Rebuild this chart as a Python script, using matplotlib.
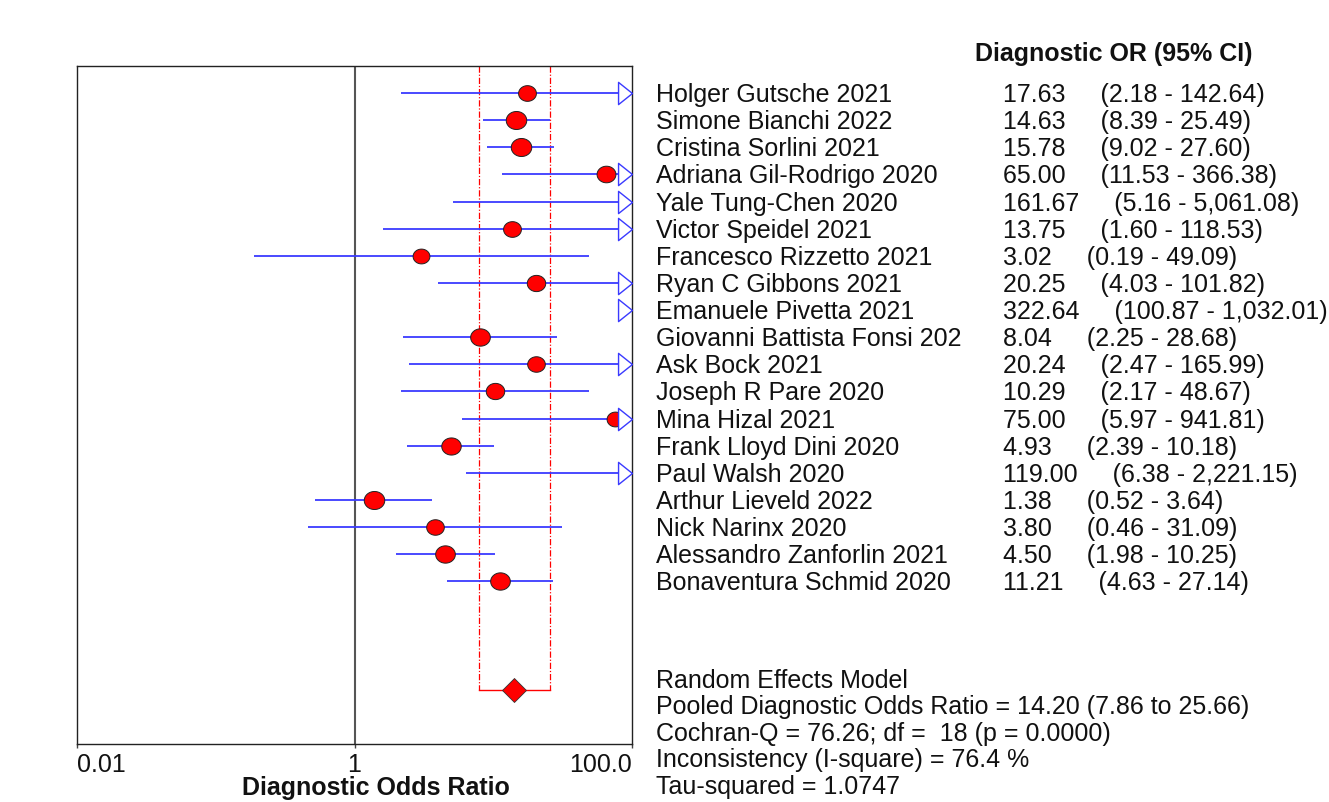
import matplotlib
matplotlib.use("Agg")
import matplotlib.pyplot as plt
import numpy as np
from matplotlib.path import Path
from matplotlib.transforms import blended_transform_factory

plt.rcParams['font.family'] = ['Liberation Sans', 'DejaVu Sans']

# ---------------- data ----------------
studies = ["Holger Gutsche 2021", "Simone Bianchi 2022", "Cristina Sorlini 2021",
           "Adriana Gil-Rodrigo 2020", "Yale Tung-Chen 2020", "Victor Speidel 2021",
           "Francesco Rizzetto 2021", "Ryan C Gibbons 2021", "Emanuele Pivetta 2021",
           "Giovanni Battista Fonsi 2021", "Ask Bock 2021", "Joseph R Pare 2020",
           "Mina Hizal 2021", "Frank Lloyd Dini 2020", "Paul Walsh 2020",
           "Arthur Lieveld 2022", "Nick Narinx 2020", "Alessandro Zanforlin 2021",
           "Bonaventura Schmid 2020"]
dor = [17.63, 14.63, 15.78, 65.00, 161.67, 13.75, 3.02, 20.25, 322.64, 8.04,
       20.24, 10.29, 75.00, 4.93, 119.00, 1.38, 3.80, 4.50, 11.21]
ci_lo = [2.18, 8.39, 9.02, 11.53, 5.16, 1.60, 0.19, 4.03, 100.87, 2.25,
         2.47, 2.17, 5.97, 2.39, 6.38, 0.52, 0.46, 1.98, 4.63]
ci_hi = [142.64, 25.49, 27.60, 366.38, 5061.08, 118.53, 49.09, 101.82, 1032.01, 28.68,
         165.99, 48.67, 941.81, 10.18, 2221.15, 3.64, 31.09, 10.25, 27.14]
# relative study weights
rel_weight = [0.87, 1.0, 1.0, 0.92, 0.8, 0.87, 0.82, 0.9, 0.8, 0.96,
              0.86, 0.9, 0.82, 0.95, 0.8, 1.0, 0.86, 0.96, 0.96]
pooled = 14.20
pooled_lo = 7.86
pooled_hi = 25.66
stats_lines = ["Random Effects Model",
               "Pooled Diagnostic Odds Ratio = 14.20 (7.86 to 25.66)",
               "Cochran-Q = 76.26; df =  18 (p = 0.0000)",
               "Inconsistency (I-square) = 76.4 %",
               "Tau-squared = 1.0747"]
xticks = [0.01, 1, 100]
xtick_labels = ["0.01", "1", "100.0"]

# ---------------- figure ----------------
W, H = 1329, 803
fig = plt.figure(figsize=(W / 100, H / 100), dpi=100)
ax_l, ax_r, ax_t, ax_b = 77, 632, 67, 745
ax = fig.add_axes([ax_l / W, 1 - ax_b / H, (ax_r - ax_l) / W, (ax_b - ax_t) / H])
ax.set_xscale('log')
ax.set_xlim(0.01, 100)
ax.set_ylim(25, 0)

FS = 18
TXT = '#111111'
BLUE = '#3a3aff'

n = len(studies)
rows = np.arange(1, n + 1)
pooled_row = 23

# reference line at 1
ax.axvline(1, color='#555555', lw=1.5, zorder=1)
# pooled CI dashed lines and bracket
ax.plot([pooled_lo, pooled_lo], [0, pooled_row], color='red', lw=0.9,
        ls=(0, (5, 1.5, 1, 1.5)), zorder=2)
ax.plot([pooled_hi, pooled_hi], [0, pooled_row], color='red', lw=0.9,
        ls=(0, (5, 1.5, 1, 1.5)), zorder=2)
ax.plot([pooled_lo, pooled_hi], [pooled_row, pooled_row], color='red', lw=1.0, zorder=2)
ax.plot([pooled], [pooled_row], marker='D', ms=12.5, mfc='red', mec='#333333', mew=0.6,
        ls='none', zorder=5)

# ellipse marker (slightly wider than tall)
th = np.linspace(0, 2 * np.pi, 60)
ell = Path(np.column_stack([np.cos(th), 0.88 * np.sin(th)]), closed=True)
# open arrow marker
arrow = Path([(-1, -1.6), (1, 0), (-1, 1.6), (-1, -1.6)], closed=True)

ytr = ax.get_yaxis_transform()
for i in range(n):
    y = rows[i]
    lo, hi = ci_lo[i], ci_hi[i]
    if lo < 100:
        ax.plot([lo, min(hi, 100)], [y, y], color=BLUE, lw=1.3, zorder=3,
                solid_capstyle='butt')
    ax.plot([dor[i]], [y], marker=ell, ms=20.5 * 0.72 * rel_weight[i],
            mfc='red', mec='#222222', mew=0.7, ls='none', zorder=4)
    if hi > 100:
        ax.plot([1 - 7.5 / (ax_r - ax_l)], [y], marker=arrow, ms=16, mfc='white',
                mec=BLUE, mew=1.0, ls='none', transform=ytr, zorder=6, clip_on=False)

# axes styling
for s in ax.spines.values():
    s.set_color('#222222')
    s.set_linewidth(1.0)
ax.set_yticks([])
ax.set_xticks(xticks)
ax.set_xticklabels(xtick_labels, fontsize=FS, color=TXT)
ax.xaxis.set_minor_locator(matplotlib.ticker.NullLocator())
ax.tick_params(axis='x', direction='out', length=3, width=1, color='#444444', pad=3)
tl = ax.get_xticklabels()
tl[0].set_ha('left')
tl[-1].set_ha('right')

ax.set_xlabel("Diagnostic Odds Ratio", fontsize=FS, fontweight='bold', color=TXT,
              va='baseline')
ax.xaxis.set_label_coords((376 - ax_l) / (ax_r - ax_l), -(795 - ax_b) / (ax_b - ax_t))

# right-hand text
tr = blended_transform_factory(fig.transFigure, ax.transData)
off = 8 / ((ax_b - ax_t) / 25)  # baseline offset in row units
for i in range(n):
    y = rows[i] + off
    ax.text(656 / W, y, studies[i][:27], transform=tr, fontsize=FS, color=TXT,
            va='baseline', ha='left', clip_on=False)
    ax.text(1003 / W, y, f"{dor[i]:,.2f}     ({ci_lo[i]:,.2f} - {ci_hi[i]:,.2f})",
            transform=tr, fontsize=FS, color=TXT, va='baseline', ha='left', clip_on=False)

fig.text(975 / W, 1 - 61 / H, "Diagnostic OR (95% CI)", fontsize=FS, fontweight='bold',
         color=TXT, va='baseline', ha='left')

for k, line in enumerate(stats_lines):
    yb = 688 + k * 26.5
    fig.text(656 / W, 1 - yb / H, line, fontsize=FS, color=TXT, va='baseline', ha='left')

fig.savefig("out.png", dpi=100)
